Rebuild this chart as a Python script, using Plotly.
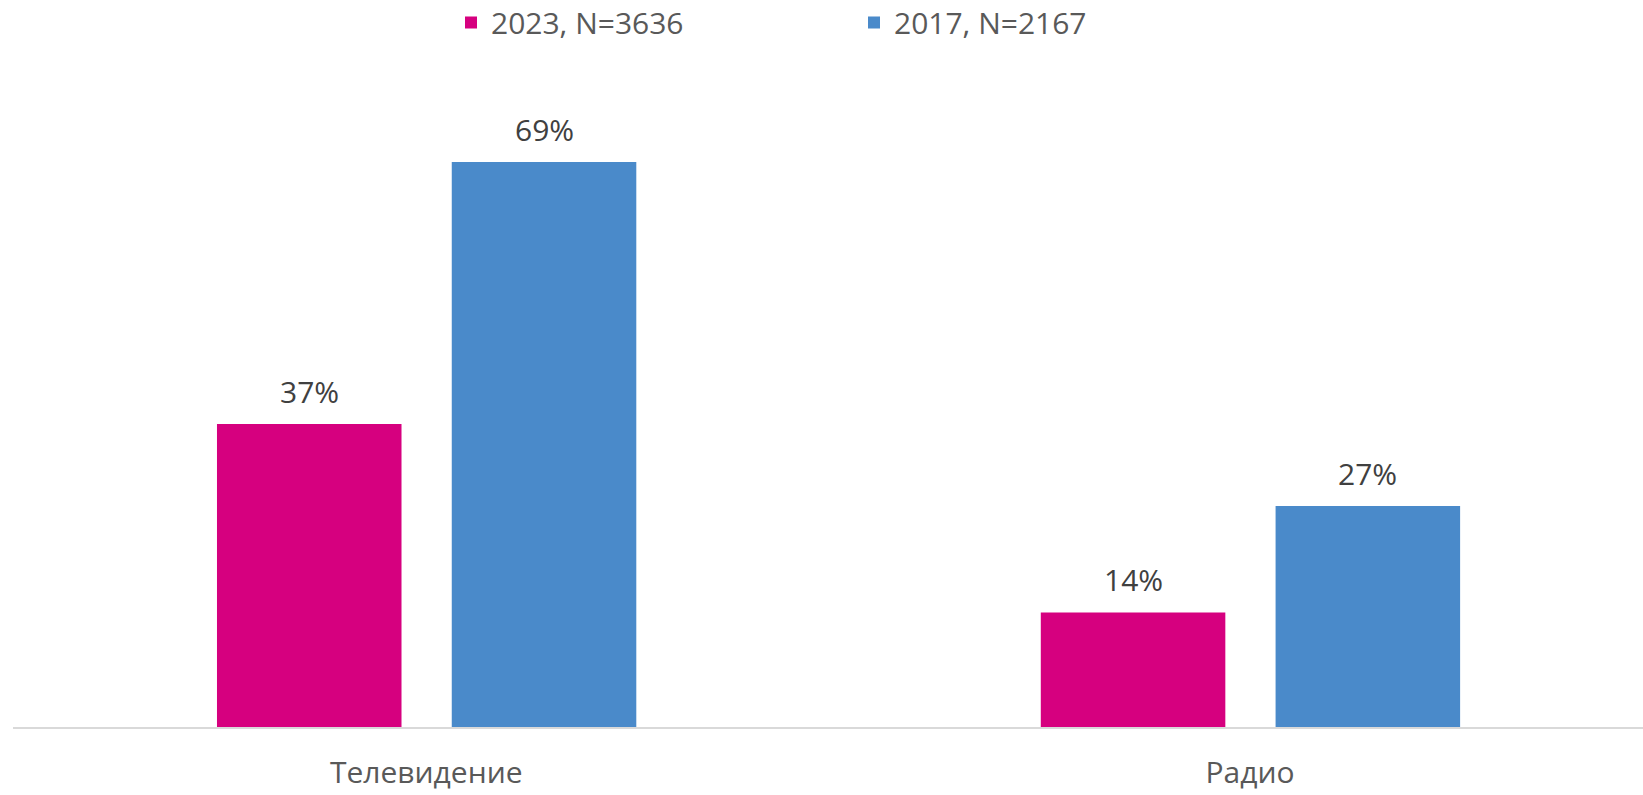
import plotly.graph_objects as go

categories = ["Телевидение", "Радио"]
series_names = ["2023, N=3636", "2017, N=2167"]
values_2023 = [37, 14]
values_2017 = [69, 27]
colors = ["#D6007F", "#4A8ACA"]

bar_width = 0.224
offsets = [-0.254, 0.031]
FONT = "Open Sans, Segoe UI, sans-serif"

fig = go.Figure()
annotations = []
for name, vals, col, off in zip(series_names, [values_2023, values_2017], colors, offsets):
    fig.add_trace(go.Bar(
        x=categories, y=vals, name=name,
        marker=dict(color=col, line=dict(width=0)),
        width=bar_width, offset=off,
        hoverinfo="x+y+name",
    ))
    for i, v in enumerate(vals):
        annotations.append(dict(
            x=i + off + bar_width / 2, y=v, xref="x", yref="y",
            text=f"{v}%", showarrow=False, yanchor="bottom",
            yshift=10, font=dict(family=FONT, size=30, color="#404040"),
        ))

fig.update_layout(
    width=1643, height=795,
    margin=dict(l=13, r=0, t=72, b=68),
    plot_bgcolor="white", paper_bgcolor="white",
    barmode="overlay",
    font=dict(family=FONT, size=30, color="#595959"),
    showlegend=True,
    legend=dict(
        orientation="h", xref="container", yref="container",
        x=451 / 1643, xanchor="left", y=0.939, yanchor="bottom",
        font=dict(family=FONT, size=30, color="#595959"),
        entrywidth=358, entrywidthmode="pixels",
        bgcolor="rgba(0,0,0,0)", itemclick=False,
    ),
    annotations=annotations,
)
fig.update_xaxes(
    type="category", range=[-0.5016, 1.477],
    showline=True, linecolor="#D9D9D9", linewidth=2,
    ticks="", showgrid=False, ticklabelstandoff=18,
    tickfont=dict(family=FONT, size=30, color="#595959"),
)
fig.update_yaxes(range=[0, 80], visible=False, showgrid=False, zeroline=False)

fig.write_html("out.html", config={"displayModeBar": False},
               post_script="document.body.style.margin='0';")
